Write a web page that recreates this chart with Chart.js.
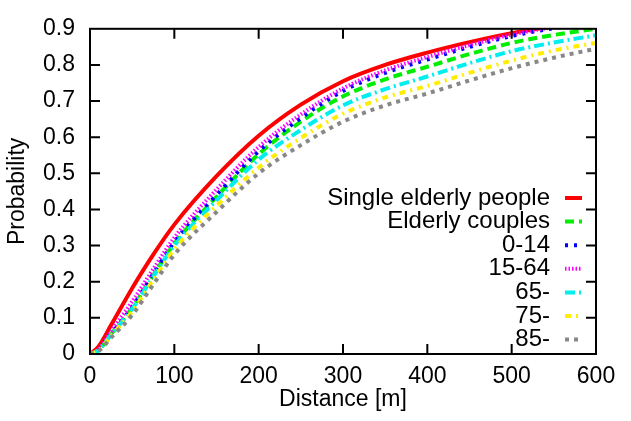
<!DOCTYPE html>
<html>
<head>
<meta charset="utf-8">
<script src="https://cdn.jsdelivr.net/npm/chart.js@4.4.1/dist/chart.umd.min.js"></script>
<style>
  html, body { margin: 0; padding: 0; background: #fff; }
  #wrap { width: 631px; height: 421px; }
</style>
</head>
<body>
<div id="wrap"><canvas id="chart" width="631" height="421"></canvas></div>
<script>
// distance in metres, probability
const distances = [0, 10, 25, 50, 75, 100, 150, 200, 250, 300, 350, 400, 450, 500, 550, 600];

const singleElderly  = [0, 0.020, 0.080, 0.182, 0.275, 0.358, 0.492, 0.604, 0.690, 0.755, 0.800, 0.834, 0.863, 0.888, 0.907, 0.924];
const elderlyCouples = [0, 0.010, 0.055, 0.128, 0.218, 0.305, 0.435, 0.553, 0.643, 0.713, 0.760, 0.795, 0.830, 0.861, 0.883, 0.900];
const age0to14       = [0, 0.010, 0.055, 0.130, 0.222, 0.310, 0.440, 0.561, 0.653, 0.728, 0.778, 0.815, 0.850, 0.880, 0.902, 0.920];
const age15to64      = [0, 0.013, 0.062, 0.145, 0.235, 0.322, 0.455, 0.573, 0.663, 0.735, 0.785, 0.822, 0.855, 0.884, 0.905, 0.922];
const age65plus      = [0, 0.010, 0.053, 0.125, 0.214, 0.300, 0.425, 0.538, 0.620, 0.688, 0.733, 0.768, 0.805, 0.838, 0.862, 0.882];
const age75plus      = [0, 0.009, 0.050, 0.118, 0.205, 0.290, 0.410, 0.516, 0.598, 0.665, 0.710, 0.742, 0.778, 0.812, 0.840, 0.861];
const age85plus      = [0, 0.008, 0.045, 0.108, 0.192, 0.275, 0.393, 0.500, 0.578, 0.643, 0.688, 0.721, 0.757, 0.791, 0.820, 0.845];

const seriesLabels = ['Single elderly people', 'Elderly couples', '0-14', '15-64', '65-', '75-', '85-'];
const seriesValues = [singleElderly, elderlyCouples, age0to14, age15to64, age65plus, age75plus, age85plus];

const xTicks = [0, 100, 200, 300, 400, 500, 600];
const yTicks = [0, 0.1, 0.2, 0.3, 0.4, 0.5, 0.6, 0.7, 0.8, 0.9];

// gnuplot-ish line styles
const lineColors = ['#ff0000', '#00ee00', '#0000ff', '#ff00ff', '#00eeee', '#ffee00', '#888888'];
const lineDashes = [[], [9, 5], [3, 6], [1.5, 2], [10, 4, 2, 4], [6, 5, 2, 5], [4, 5]];

const FONT = '"Liberation Sans", Arial, sans-serif';

const frame = {
  id: 'frame',
  afterDatasetsDraw(chart) {
    const { ctx, chartArea: a, scales: { x, y } } = chart;
    const len = 10;
    ctx.save();
    ctx.strokeStyle = '#000';
    ctx.lineWidth = 2;
    ctx.beginPath();
    xTicks.forEach(v => {
      const px = x.getPixelForValue(v);
      if (px <= a.left + 1 || px >= a.right - 1) return;
      ctx.moveTo(px, a.bottom); ctx.lineTo(px, a.bottom - len);
      ctx.moveTo(px, a.top); ctx.lineTo(px, a.top + len);
    });
    yTicks.forEach(v => {
      const py = y.getPixelForValue(v);
      if (py <= a.top + 1 || py >= a.bottom - 1) return;
      ctx.moveTo(a.left, py); ctx.lineTo(a.left + len, py);
      ctx.moveTo(a.right, py); ctx.lineTo(a.right - len, py);
    });
    ctx.stroke();
    ctx.strokeRect(a.left, a.top, a.right - a.left, a.bottom - a.top);
    ctx.restore();
  }
};

const keyBox = {
  id: 'keyBox',
  afterDraw(chart) {
    const { ctx, chartArea: a } = chart;
    const textRight = a.right - 46;
    const sampleLeft = a.right - 31;
    const sampleRight = a.right - 14;
    ctx.save();
    ctx.font = '24px ' + FONT;
    ctx.textAlign = 'right';
    ctx.textBaseline = 'middle';
    chart.data.datasets.forEach((ds, i) => {
      const yy = 198 + i * 23.6;
      ctx.fillStyle = '#000';
      ctx.fillText(ds.label, textRight, yy);
      ctx.strokeStyle = ds.borderColor;
      ctx.lineWidth = 4;
      ctx.setLineDash(ds.borderDash);
      ctx.beginPath();
      ctx.moveTo(sampleLeft, yy);
      ctx.lineTo(sampleRight, yy);
      ctx.stroke();
    });
    ctx.restore();
  }
};

const datasets = seriesLabels.map((label, i) => ({
  label,
  data: distances.map((d, j) => ({ x: d, y: seriesValues[i][j] })),
  borderColor: lineColors[i],
  borderDash: lineDashes[i],
  borderWidth: 4,
  borderCapStyle: 'butt',
  pointRadius: 0,
  fill: false,
  cubicInterpolationMode: 'monotone',
  order: seriesLabels.length - i,
}));

new Chart(document.getElementById('chart'), {
  type: 'line',
  data: { datasets },
  plugins: [frame, keyBox],
  options: {
    responsive: false,
    animation: false,
    devicePixelRatio: 1,
    layout: { padding: { top: 16, right: 35, bottom: 0, left: 0 } },
    plugins: { legend: { display: false }, tooltip: { enabled: false } },
    scales: {
      x: {
        type: 'linear',
        min: 0,
        max: 600,
        afterBuildTicks: s => { s.ticks = xTicks.map(v => ({ value: v })); },
        ticks: { color: '#000', font: { family: FONT, size: 23 }, padding: 9, maxRotation: 0 },
        grid: { display: false, drawTicks: false },
        border: { display: false },
        title: { display: true, text: 'Distance [m]', color: '#000', font: { family: FONT, size: 23 }, padding: { top: 0, bottom: 8 } },
        afterFit: s => { s.height = 67; },
      },
      y: {
        type: 'linear',
        min: 0,
        max: 0.9,
        afterBuildTicks: s => { s.ticks = yTicks.map(v => ({ value: v })); },
        ticks: { color: '#000', font: { family: FONT, size: 23 }, padding: 15, callback: v => v === 0 ? '0' : v.toFixed(1) },
        grid: { display: false, drawTicks: false },
        border: { display: false },
        title: { display: true, text: 'Probability', color: '#000', font: { family: FONT, size: 23 }, padding: { top: 4, bottom: 0 } },
        afterFit: s => { s.width = 90; },
      },
    },
  },
});
</script>
</body>
</html>
